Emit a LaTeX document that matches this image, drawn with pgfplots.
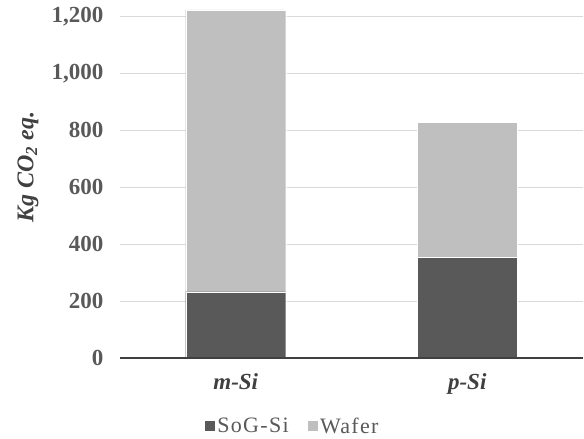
\documentclass[border=0pt]{standalone}
\usepackage{fontspec}
\setmainfont{Liberation Serif}
\usepackage{pgfplots}
\pgfplotsset{compat=1.18}
\definecolor{darkbar}{HTML}{595959}
\definecolor{lightbar}{HTML}{BFBFBF}
\definecolor{gridc}{HTML}{D9D9D9}
\definecolor{txt}{HTML}{595959}
\definecolor{axc}{HTML}{404040}
\begin{document}
\begin{tikzpicture}
\useasboundingbox (-120pt,-81pt) rectangle (464pt,358pt);
\begin{axis}[
  at={(0,0)}, anchor=south west,
  scale only axis,
  width=463pt, height=352.7pt,
  ybar stacked,
  bar width=100pt,
  xmin=-0.5, xmax=1.5,
  ymin=0, ymax=1240,
  clip=false,
  xtick={0,1}, xticklabels={\textbf{\textit{m-Si}},\textbf{\textit{p-Si}}},
  ytick={0,200,400,600,800,1000,1200},
  ymajorgrids, grid style={gridc, line width=1pt},
  major tick length=0pt,
  axis line style={draw=none},
  /pgf/number format/assume math mode=true,
  /pgf/number format/1000 sep={,},
  yticklabel style={font=\fontsize{23}{26}\selectfont\bfseries, text=txt, xshift=-13pt},
  xticklabel style={font=\fontsize{23}{26}\selectfont, text=axc, yshift=-12pt},
  legend style={draw=none, at={(rel axis cs:0.372,-0.193)}, anchor=center,
    font=\fontsize{22}{24}\selectfont\addfontfeature{LetterSpace=6}, text=txt, legend columns=2,
    /tikz/every even column/.append style={column sep=16pt}},
  legend image code/.code={\fill[#1] (0pt,-5.5pt) rectangle (11pt,5.5pt);},
]
\addplot[fill=darkbar, draw=white, line width=0.4pt] coordinates {(0,233) (1,354)};
\addplot[fill=lightbar, draw=white, line width=0.4pt] coordinates {(0,991) (1,474)};
\legend{SoG-Si, Wafer}
\end{axis}
\draw[axc, line width=1.8pt] (current axis.south west) -- (current axis.south east);
\node[rotate=90, anchor=center, text=axc, font=\fontsize{24}{26}\selectfont\bfseries\itshape]
  at (-92pt,191pt) {Kg CO\textsubscript{2} eq.};
\end{tikzpicture}
\end{document}
